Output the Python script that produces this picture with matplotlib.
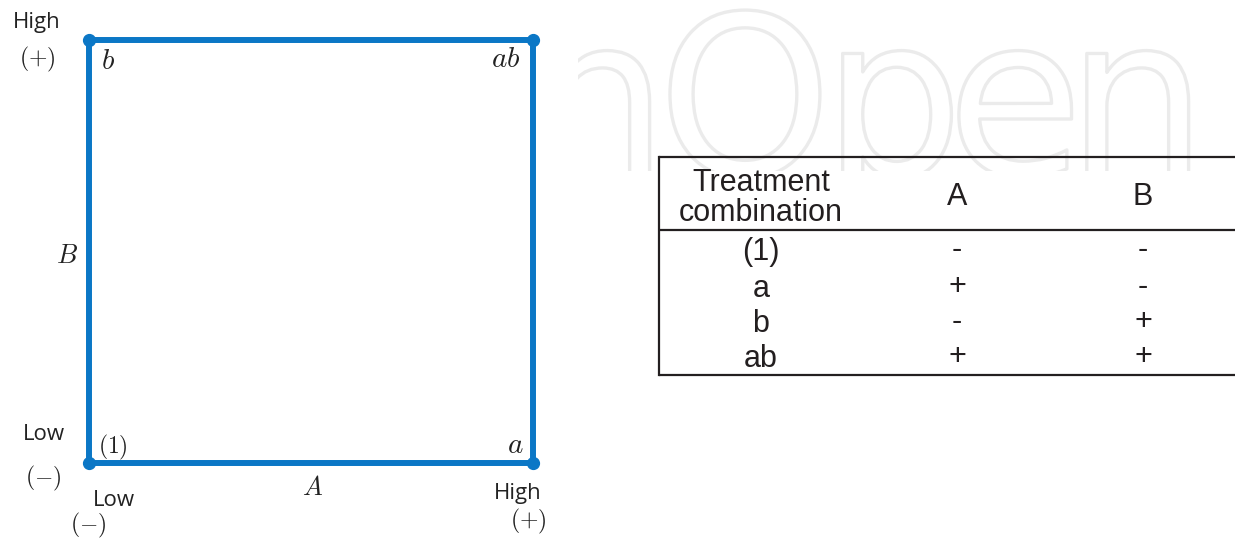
import matplotlib
matplotlib.use('Agg')
import matplotlib.pyplot as plt
import matplotlib.patheffects as pe

plt.rcParams['mathtext.fontset'] = 'cm'

W, H = 1235, 540

# ---------------- data ----------------
A_levels = [-1, 1]                 # factor A: low, high
B_levels = [-1, 1]                 # factor B: low, high
level_names = ['Low', 'High']
level_signs = [r'$(-)$', r'$(+)$']
treatments = ['(1)', 'a', 'b', 'ab']
corner_labels = [r'$(1)$', r'$a$', r'$b$', r'$ab$']
A_signs = ['-', '+', '-', '+']
B_signs = ['-', '-', '+', '+']
header_labels = ['Treatment\ncombination', 'A', 'B']

BLUE = '#0b77c6'
DARK = '#222222'
TDARK = '#231f20'

fig = plt.figure(figsize=(W / 100, H / 100), dpi=100)
fig.patch.set_facecolor('white')


def fx(x):
    return x / W


def fy(y):
    return 1 - y / H


# ---------------- watermark ----------------
wm = fig.add_axes([fx(578), fy(171), (W - 578) / W, 171 / H])
wm.set_xlim(578, W)
wm.set_ylim(171, 0)
wm.axis('off')
for ch, cx in [('h', 598), ('O', 745), ('p', 893), ('e', 1015), ('n', 1137)]:
    wm.text(cx, 175, ch, fontsize=160, family='DejaVu Sans', color='white',
            ha='center', va='baseline', clip_on=True,
            path_effects=[pe.Stroke(linewidth=2.4, foreground='#ebebeb')])

# ---------------- overlay in pixel coords ----------------
ov = fig.add_axes([0, 0, 1, 1])
ov.set_xlim(0, W)
ov.set_ylim(H, 0)
ov.axis('off')
ov.patch.set_alpha(0)

# ---------------- square design ----------------
x0, x1, y0, y1 = 89, 533, 40, 463
sq = fig.add_axes([fx(x0), fy(y1), (x1 - x0) / W, (y1 - y0) / H])
sq.set_xlim(A_levels[0], A_levels[1])
sq.set_ylim(B_levels[0], B_levels[1])
sq.axis('off')
sq.patch.set_alpha(0)

sgn = {'-': 0, '+': 1}
xs = [A_levels[sgn[s]] for s in A_signs]
ys = [B_levels[sgn[s]] for s in B_signs]
order = [0, 1, 3, 2, 0]
sq.plot([xs[i] for i in order], [ys[i] for i in order], color=BLUE, lw=4.3,
        solid_joinstyle='miter', clip_on=False, zorder=2)
sq.plot(xs, ys, 'o', color=BLUE, ms=8.5, clip_on=False, zorder=3)

offsets = {'(1)': (24, 10), 'a': (-18, 10), 'b': (19, -29), 'ab': (-27, -27)}
sizes = {'(1)': 17, 'a': 21, 'b': 21, 'ab': 21}
for t, lab, x, y in zip(treatments, corner_labels, xs, ys):
    sq.annotate(lab, xy=(x, y), xytext=offsets[t], textcoords='offset pixels',
                ha='center', va='baseline', fontsize=sizes[t], color=DARK)

# axis factor labels
ov.text(313, 495, r'$A$', fontsize=19, color=DARK, ha='center', va='baseline')
ov.text(67, 263, r'$B$', fontsize=19, color=DARK, ha='center', va='baseline')

# level labels, A axis (bottom)
ov.text(114, 506, level_names[0], family='Open Sans', fontsize=16, color=DARK,
        ha='center', va='baseline')
ov.text(88, 525, level_signs[0], fontsize=17, color=DARK, ha='center', va='center')
ov.text(518, 499, level_names[1], family='Open Sans', fontsize=16, color=DARK,
        ha='center', va='baseline')
ov.text(528, 521, level_signs[1], fontsize=17, color=DARK, ha='center', va='center')
# level labels, B axis (left)
ov.text(44, 440, level_names[0], family='Open Sans', fontsize=16, color=DARK,
        ha='center', va='baseline')
ov.text(43, 478, level_signs[0], fontsize=17, color=DARK, ha='center', va='center')
ov.text(37, 28, level_names[1], family='Open Sans', fontsize=16, color=DARK,
        ha='center', va='baseline')
ov.text(37, 59, level_signs[1], fontsize=17, color=DARK, ha='center', va='center')

# ---------------- table ----------------
tl, tr = 659, W + 5
t_top, t_head, t_bot = 157, 230, 375
lw_t = 1.6
ov.plot([tl, tr], [t_top, t_top], color=TDARK, lw=lw_t, solid_capstyle='butt')
ov.plot([tl, tr], [t_head, t_head], color=TDARK, lw=lw_t, solid_capstyle='butt')
ov.plot([tl, tr], [t_bot, t_bot], color=TDARK, lw=lw_t, solid_capstyle='butt')
ov.plot([tl, tl], [t_top, t_bot], color=TDARK, lw=lw_t, solid_capstyle='projecting')

col_x = [761, 957, 1143]
tfont = dict(family='Liberation Sans', fontsize=22, color=TDARK, ha='center',
             va='baseline')
ov.text(col_x[0], 198, header_labels[0], family='Liberation Sans', fontsize=22,
        color=TDARK, ha='center', va='center', linespacing=1.0,
        multialignment='center')
ov.text(col_x[1], 205, header_labels[1], **tfont)
ov.text(col_x[2], 205, header_labels[2], **tfont)

row_base = [260, 297, 332, 367]
for yb, t, sa, sb in zip(row_base, treatments, A_signs, B_signs):
    ov.text(col_x[0], yb, t, **tfont)
    ov.text(col_x[1], yb - 2, sa, **tfont)
    ov.text(col_x[2], yb - 2, sb, **tfont)

fig.savefig('out.png', dpi=100, facecolor='white')
